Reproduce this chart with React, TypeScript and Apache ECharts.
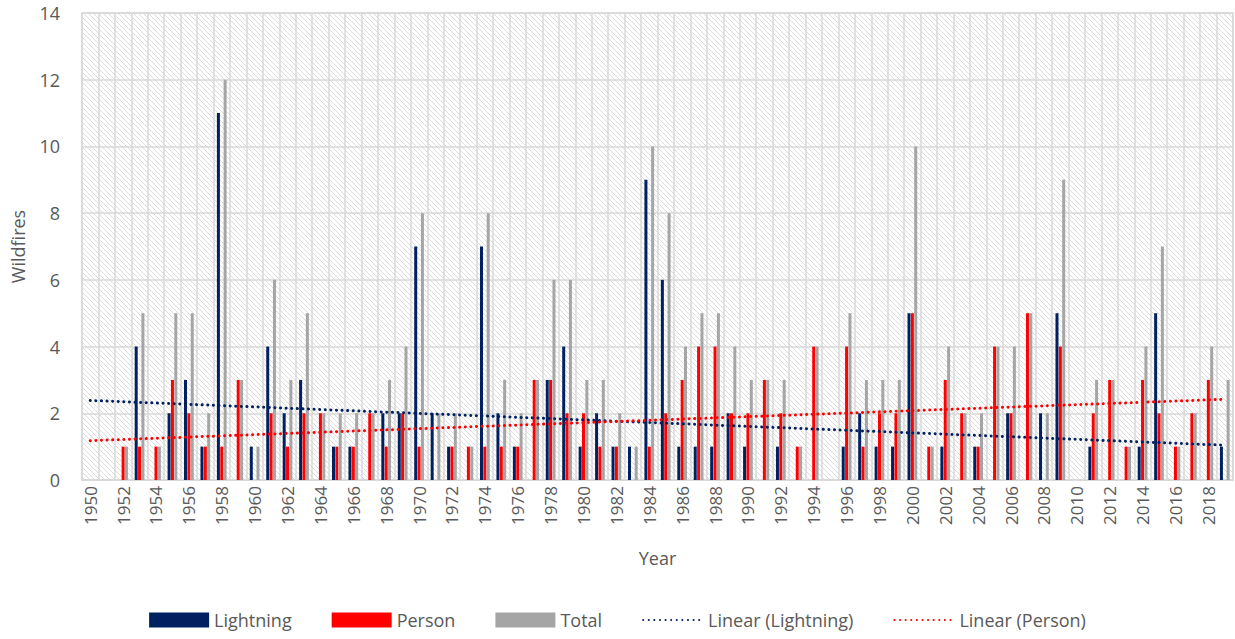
import React, { useEffect, useRef } from "react";
import * as echarts from "echarts";

const years = [
  "1950","1951","1952","1953","1954","1955","1956","1957","1958","1959",
  "1960","1961","1962","1963","1964","1965","1966","1967","1968","1969",
  "1970","1971","1972","1973","1974","1975","1976","1977","1978","1979",
  "1980","1981","1982","1983","1984","1985","1986","1987","1988","1989",
  "1990","1991","1992","1993","1994","1995","1996","1997","1998","1999",
  "2000","2001","2002","2003","2004","2005","2006","2007","2008","2009",
  "2010","2011","2012","2013","2014","2015","2016","2017","2018","2019",
];

const lightning = [
  0, 0, 0, 4, 0, 2, 3, 1, 11, 0,
  1, 4, 2, 3, 0, 1, 1, 0, 2, 2,
  7, 2, 1, 0, 7, 2, 1, 0, 3, 4,
  1, 2, 1, 1, 9, 6, 1, 1, 1, 2,
  1, 0, 1, 0, 0, 0, 1, 2, 1, 1,
  5, 0, 1, 0, 1, 0, 2, 0, 2, 5,
  0, 1, 0, 0, 1, 5, 0, 0, 0, 1,
];

const person = [
  0, 0, 1, 1, 1, 3, 2, 1, 1, 3,
  0, 2, 1, 2, 2, 1, 1, 2, 1, 2,
  1, 0, 1, 1, 1, 1, 1, 3, 3, 2,
  2, 1, 1, 0, 1, 2, 3, 4, 4, 2,
  2, 3, 2, 1, 4, 0, 4, 1, 2, 2,
  5, 1, 3, 2, 1, 4, 2, 5, 0, 4,
  0, 2, 3, 1, 3, 2, 1, 2, 3, 0,
];

const total = [
  0, 0, 1, 5, 1, 5, 5, 2, 12, 3,
  1, 6, 3, 5, 2, 2, 2, 2, 3, 4,
  8, 2, 2, 1, 8, 3, 2, 3, 6, 6,
  3, 3, 2, 1, 10, 8, 4, 5, 5, 4,
  3, 3, 3, 1, 4, 0, 5, 3, 3, 3,
  10, 1, 4, 2, 2, 4, 4, 5, 2, 9,
  0, 3, 3, 1, 4, 7, 1, 2, 4, 3,
];

const C_LIGHT = "#002060";
const C_PERSON = "#ff0000";
const C_TOTAL = "#a5a5a5";
const TXT = "#595959";
const GRIDC = "#d9d9d9";
const FONT = "'Open Sans', 'Liberation Sans', sans-serif";

// Least-squares linear trendline (as Excel's "Linear" trendline)
function linearTrend(values: number[]): number[] {
  const n = values.length;
  let sx = 0, sy = 0, sxy = 0, sxx = 0;
  values.forEach((v, i) => {
    const x = i + 1;
    sx += x; sy += v; sxy += x * v; sxx += x * x;
  });
  const slope = (n * sxy - sx * sy) / (n * sxx - sx * sx);
  const icpt = (sy - slope * sx) / n;
  return values.map((_, i) => +(icpt + slope * (i + 1)).toFixed(4));
}

const hatch =
  "data:image/svg+xml;charset=utf-8," +
  encodeURIComponent(
    "<svg xmlns='http://www.w3.org/2000/svg' width='5' height='5'><rect width='5' height='5' fill='#ffffff'/><path d='M-1,4 L1,6 M0,0 L5,5 M4,-1 L6,1' stroke='#dddddd' stroke-width='1'/></svg>"
  );

export default function App() {
  const ref = useRef<HTMLDivElement>(null);

  useEffect(() => {
    if (!ref.current) return;
    const chart = echarts.init(ref.current, null, { renderer: "svg" });

    const dotted = { width: 3, type: [0.1, 5.5], cap: "round" };

    const option: any = {
      animation: false,
      backgroundColor: "#ffffff",
      textStyle: { fontFamily: FONT },
      grid: {
        left: 82,
        right: 2,
        top: 13,
        bottom: 159,
        show: true,
        borderColor: GRIDC,
        borderWidth: 1.5,
        backgroundColor: { image: hatch, repeat: "repeat" },
      },
      legend: {
        bottom: 5,
        left: "center",
        itemWidth: 60,
        itemHeight: 15,
        itemGap: 40,
        textStyle: { color: TXT, fontSize: 18, fontFamily: FONT },
        data: [
          { name: "Lightning", icon: "rect" },
          { name: "Person", icon: "rect" },
          { name: "Total", icon: "rect" },
          { name: "Linear (Lightning)", itemStyle: { opacity: 0 } },
          { name: "Linear (Person)", itemStyle: { opacity: 0 } },
        ],
      },
      xAxis: {
        type: "category",
        data: years,
        name: "Year",
        nameLocation: "middle",
        nameGap: 69,
        nameTextStyle: { color: TXT, fontSize: 18, fontFamily: FONT },
        axisLine: { show: true, lineStyle: { color: GRIDC, width: 1.5 } },
        axisTick: { show: false },
        axisLabel: {
          interval: 1,
          rotate: 90,
          color: TXT,
          fontSize: 17,
          margin: 6,
          fontFamily: FONT,
        },
        splitLine: {
          show: true,
          interval: 0,
          lineStyle: { color: GRIDC, width: 1.5 },
        },
      },
      yAxis: {
        type: "value",
        min: 0,
        max: 14,
        interval: 2,
        name: "Wildfires",
        nameLocation: "middle",
        nameRotate: 90,
        nameGap: 55,
        nameTextStyle: { color: TXT, fontSize: 18, fontFamily: FONT },
        axisLine: { show: false },
        axisTick: { show: false },
        axisLabel: { color: TXT, fontSize: 18, margin: 22, fontFamily: FONT },
        splitLine: { show: true, lineStyle: { color: GRIDC, width: 1.5 } },
      },
      series: [
        {
          name: "Lightning",
          type: "bar",
          data: lightning,
          barWidth: 3,
          barGap: "12%",
          itemStyle: { color: C_LIGHT },
        },
        {
          name: "Person",
          type: "bar",
          data: person,
          barWidth: 3,
          barGap: "12%",
          itemStyle: { color: C_PERSON },
        },
        {
          name: "Total",
          type: "bar",
          data: total,
          barWidth: 3,
          barGap: "12%",
          itemStyle: { color: C_TOTAL },
        },
        {
          name: "Linear (Lightning)",
          type: "line",
          data: linearTrend(lightning),
          symbol: "none",
          z: 5,
          itemStyle: { color: C_LIGHT },
          lineStyle: { color: C_LIGHT, ...dotted },
        },
        {
          name: "Linear (Person)",
          type: "line",
          data: linearTrend(person),
          symbol: "none",
          z: 5,
          itemStyle: { color: C_PERSON },
          lineStyle: { color: C_PERSON, ...dotted },
        },
      ],
    };
    chart.setOption(option);
    return () => chart.dispose();
  }, []);

  return (
    <div
      ref={ref}
      style={{ position: "fixed", left: 0, top: 0, width: 1235, height: 639 }}
    />
  );
}
